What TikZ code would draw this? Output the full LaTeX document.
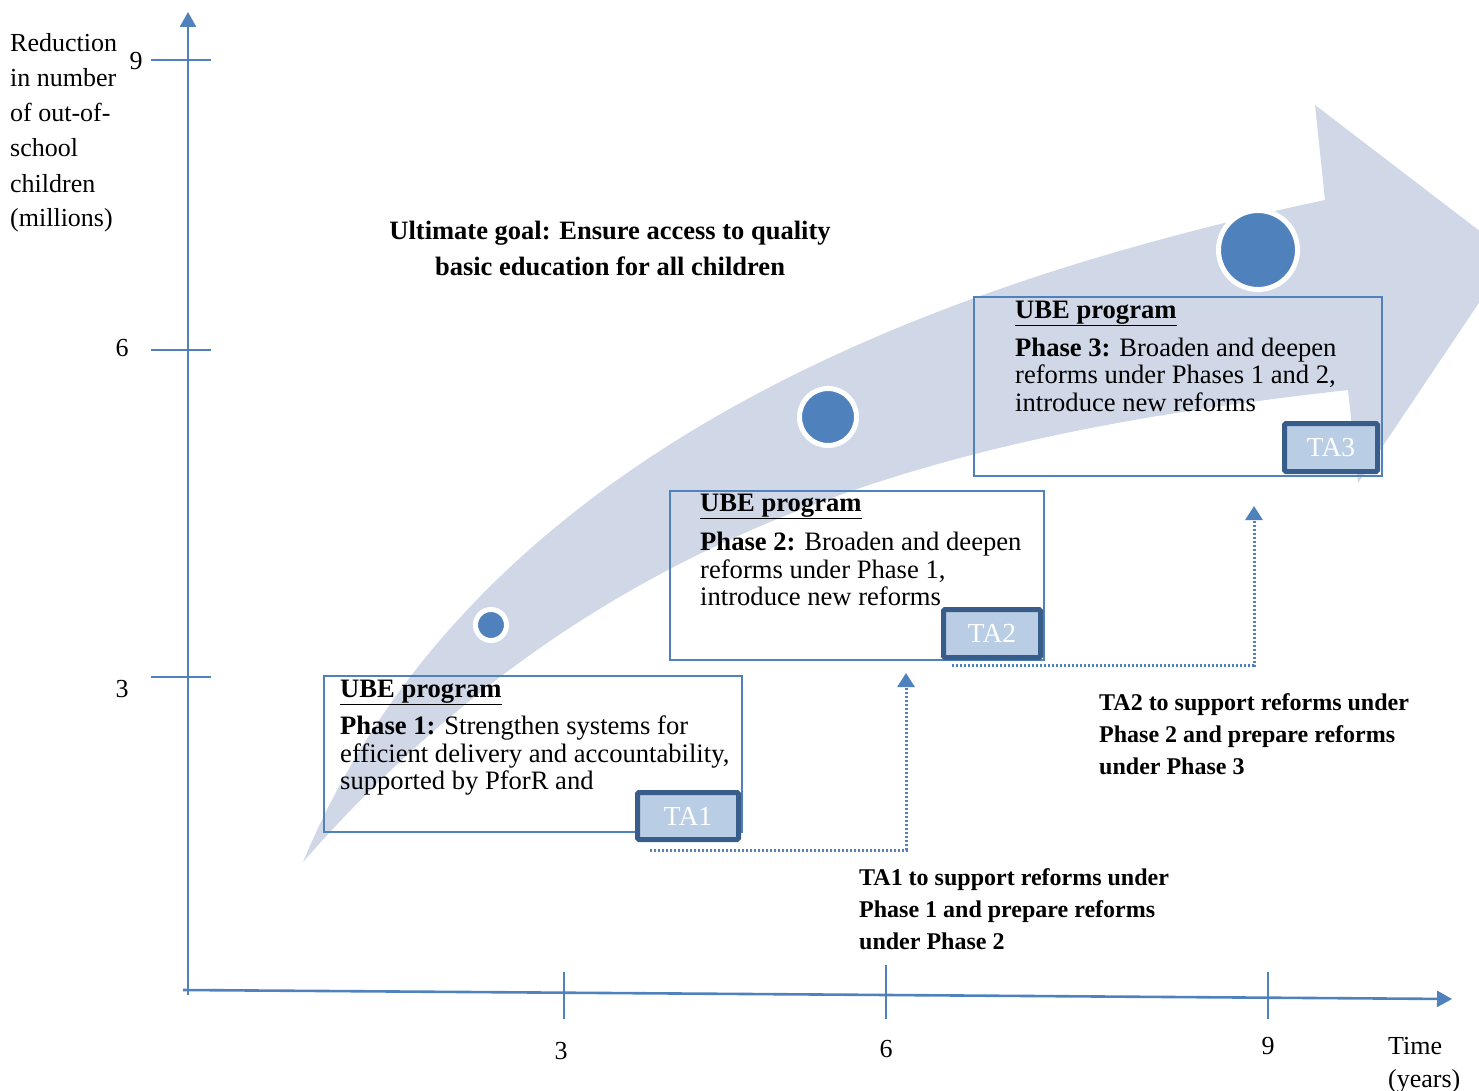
\documentclass[tikz,border=0pt]{standalone}
\usepackage{fontspec}
\setmainfont{Liberation Serif}
\usetikzlibrary{arrows.meta}

\definecolor{axisblue}{HTML}{4F81BD}
\definecolor{tadark}{HTML}{385D8A}
\definecolor{tafill}{HTML}{B9CDE5}
\definecolor{bandfill}{HTML}{D0D8E8}

\tikzset{
  txt/.style={inner sep=0pt, anchor=base west, font=\fontsize{26}{30}\selectfont},
  boxtxt/.style={txt, font=\fontsize{26.6}{30}\selectfont},
  txtc/.style={txt, anchor=base},
  boldlbl/.style={inner sep=0pt, anchor=base west, font=\fontsize{24}{28}\selectfont\bfseries},
  titlelbl/.style={inner sep=0pt, anchor=base, font=\fontsize{26.5}{30}\selectfont\bfseries},
  axisline/.style={draw=axisblue, line width=2.6pt},
  tickline/.style={draw=axisblue, line width=2pt},
  ubebox/.style={draw=axisblue, line width=1.8pt, inner sep=0pt, anchor=north west},
  tabox/.style={draw=tadark, fill=tafill, line width=5pt, rounded corners=1.5pt,
    inner sep=0pt, text=white, font=\fontsize{27.5}{30}\selectfont},
  milestone/.style={circle, fill=axisblue, draw=white, line width=5pt, inner sep=0pt},
  talink/.style={draw=axisblue, line width=3pt, dash pattern=on 2.2pt off 1.8pt,
    -{Triangle[width=17pt,length=14pt]}},
}

\begin{document}
\begin{tikzpicture}[x=1pt,y=-1pt]
\useasboundingbox (0,0) rectangle (1479,1091);
\clip (0,0) rectangle (1479,1091);

% curved progress band with arrow head
\fill[bandfill] (303,862) .. controls (473,454) and (925,285) .. (1325,200)
  -- (1315,105) -- (1511,255) -- (1358,483) -- (1348,390)
  .. controls (948,435) and (603,520) .. (303,862) -- cycle;

% milestones on the band
\node[milestone, minimum size=31pt] (dot1) at (491,625) {};
\node[milestone, minimum size=57pt] (dot2) at (828,417) {};
\node[milestone, minimum size=79pt] (dot3) at (1258,250) {};

% axes
\coordinate (yo) at (188,995);
\coordinate (ytop) at (188,12);
\coordinate (xo) at (183,990);
\coordinate (xend) at (1452,999);
\draw[axisline, -{Triangle[width=16pt,length=15pt]}] (yo) -- (ytop);
\draw[axisline, -{Triangle[width=16pt,length=15pt]}] (xo) -- (xend);

% y ticks
\coordinate (y9a) at (151,60);  \coordinate (y9b) at (211,60);
\coordinate (y6a) at (151,350); \coordinate (y6b) at (211,350);
\coordinate (y3a) at (151,677); \coordinate (y3b) at (211,677);
\draw[tickline] (y9a) -- (y9b);
\draw[tickline] (y6a) -- (y6b);
\draw[tickline] (y3a) -- (y3b);

% x ticks
\coordinate (x3a) at (564,972);  \coordinate (x3b) at (564,1019);
\coordinate (x6a) at (886,965);  \coordinate (x6b) at (886,1019);
\coordinate (x9a) at (1268,972); \coordinate (x9b) at (1268,1019);
\draw[tickline] (x3a) -- (x3b);
\draw[tickline] (x6a) -- (x6b);
\draw[tickline] (x9a) -- (x9b);

% axis numbers
\node[txtc] (ny9) at (136,70) {9};
\node[txtc] (ny6) at (122,356) {6};
\node[txtc] (ny3) at (122,697) {3};
\node[txtc] (nx3) at (561,1059) {3};
\node[txtc] (nx6) at (886,1057) {6};
\node[txtc] (nx9) at (1268,1054) {9};

% axis titles
\node[txt] (yt1) at (10,52) {Reduction};
\node[txt] (yt2) at (10,87) {in number};
\node[txt] (yt3) at (10,122) {of out-of-};
\node[txt] (yt4) at (10,157) {school};
\node[txt] (yt5) at (10,193) {children};
\node[txt] (yt6) at (10,227) {(millions)};
\node[txt] (xt1) at (1388,1054) {Time};
\node[txt] (xt2) at (1388,1087) {(years)};

% goal
\node[titlelbl] (goal1) at (610,240) {Ultimate goal: Ensure access to quality};
\node[titlelbl] (goal2) at (610,275) {basic education for all children};

% phase boxes
\node[ubebox, minimum width=418pt, minimum height=156pt] (box1) at (323,675) {};
\node[ubebox, minimum width=374pt, minimum height=169pt] (box2) at (669,490) {};
\node[ubebox, minimum width=408pt, minimum height=179pt] (box3) at (973,296) {};

\node[boxtxt] (p1h) at (340,697) {\underline{\textbf{UBE program}}};
\node[boxtxt] (p1a) at (340,734) {\textbf{Phase 1:} Strengthen systems for};
\node[boxtxt] (p1b) at (340,762) {efficient delivery and accountability,};
\node[boxtxt] (p1c) at (340,789) {supported by PforR and};

\node[boxtxt] (p2h) at (700,511) {\underline{\textbf{UBE program}}};
\node[boxtxt] (p2a) at (700,550) {\textbf{Phase 2:} Broaden and deepen};
\node[boxtxt] (p2b) at (700,578) {reforms under Phase 1,};
\node[boxtxt] (p2c) at (700,605) {introduce new reforms};

\node[boxtxt] (p3h) at (1015,318) {\underline{\textbf{UBE program}}};
\node[boxtxt] (p3a) at (1015,356) {\textbf{Phase 3:} Broaden and deepen};
\node[boxtxt] (p3b) at (1015,383) {reforms under Phases 1 and 2,};
\node[boxtxt] (p3c) at (1015,411) {introduce new reforms};

% technical assistance tabs
\node[tabox, minimum width=101pt, minimum height=47pt] (ta1) at (688,816) {TA1};
\node[tabox, minimum width=97pt, minimum height=48pt] (ta2) at (992,633.5) {TA2};
\node[tabox, minimum width=93pt, minimum height=48pt] (ta3) at (1331,447.5) {TA3};

% links from each TA to the next phase
\coordinate (l1s) at (650,850);
\coordinate (l1t) at (906,673);
\coordinate (l2s) at (952,665);
\coordinate (l2t) at (1254,506);
\draw[talink] (l1s) -| (l1t);
\draw[talink] (l2s) -| (l2t);

% TA notes
\node[boldlbl] (n1a) at (859,885) {TA1 to support reforms under};
\node[boldlbl] (n1b) at (859,917) {Phase 1 and prepare reforms};
\node[boldlbl] (n1c) at (859,949) {under Phase 2};
\node[boldlbl] (n2a) at (1099,710) {TA2 to support reforms under};
\node[boldlbl] (n2b) at (1099,742) {Phase 2 and prepare reforms};
\node[boldlbl] (n2c) at (1099,774) {under Phase 3};
\end{tikzpicture}
\end{document}
